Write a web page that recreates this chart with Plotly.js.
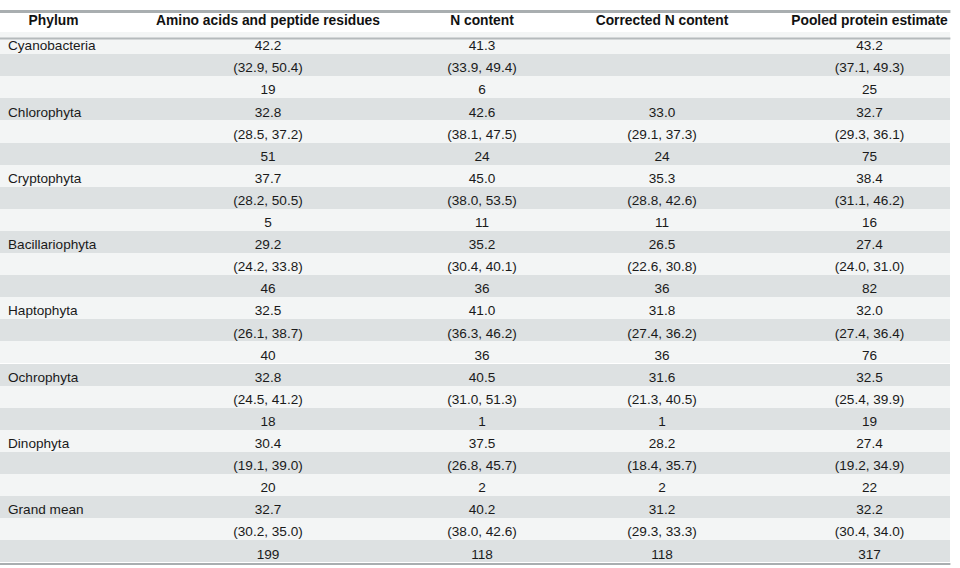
<!DOCTYPE html>
<html>
<head>
<meta charset="utf-8">
<script src="https://cdn.plot.ly/plotly-3.0.1.min.js"></script>
<style>html,body{margin:0;padding:0;background:#fff;}#chart{width:960px;height:568px;}</style>
</head>
<body>
<div id="chart"></div>
<script>
const headers = ["Phylum", "Amino acids and peptide residues", "N content", "Corrected N content", "Pooled protein estimate"];
const phyla = ["Cyanobacteria", "Chlorophyta", "Cryptophyta", "Bacillariophyta", "Haptophyta", "Ochrophyta", "Dinophyta", "Grand mean"];

const aminoMean = [42.2, 32.8, 37.7, 29.2, 32.5, 32.8, 30.4, 32.7];
const aminoLo   = [32.9, 28.5, 28.2, 24.2, 26.1, 24.5, 19.1, 30.2];
const aminoHi   = [50.4, 37.2, 50.5, 33.8, 38.7, 41.2, 39.0, 35.0];
const aminoN    = [19, 51, 5, 46, 40, 18, 20, 199];

const nMean = [41.3, 42.6, 45.0, 35.2, 41.0, 40.5, 37.5, 40.2];
const nLo   = [33.9, 38.1, 38.0, 30.4, 36.3, 31.0, 26.8, 38.0];
const nHi   = [49.4, 47.5, 53.5, 40.1, 46.2, 51.3, 45.7, 42.6];
const nN    = [6, 24, 11, 36, 36, 1, 2, 118];

const corrMean = [null, 33.0, 35.3, 26.5, 31.8, 31.6, 28.2, 31.2];
const corrLo   = [null, 29.1, 28.8, 22.6, 27.4, 21.3, 18.4, 29.3];
const corrHi   = [null, 37.3, 42.6, 30.8, 36.2, 40.5, 35.7, 33.3];
const corrN    = [null, 24, 11, 36, 36, 1, 2, 118];

const poolMean = [43.2, 32.7, 38.4, 27.4, 32.0, 32.5, 27.4, 32.2];
const poolLo   = [37.1, 29.3, 31.1, 24.0, 27.4, 25.4, 19.2, 30.4];
const poolHi   = [49.3, 36.1, 46.2, 31.0, 36.4, 39.9, 34.9, 34.0];
const poolN    = [25, 75, 16, 82, 76, 19, 22, 317];

function f1(v){ return v === null ? "" : v.toFixed(1); }
function ci(lo, hi){ return lo === null ? "" : "(" + lo.toFixed(1) + ",\u00a0" + hi.toFixed(1) + ")"; }
function buildCol(mean, lo, hi, n){
  const out = [];
  for (let i = 0; i < mean.length; i++){
    out.push(f1(mean[i]));
    out.push(ci(lo[i], hi[i]));
    out.push(n[i] === null ? "" : String(n[i]));
  }
  return out;
}
const col0 = [];
phyla.forEach(p => { col0.push(p.replace(/ /g, "\u00a0")); col0.push(""); col0.push(""); });
const cols = [col0,
  buildCol(aminoMean, aminoLo, aminoHi, aminoN),
  buildCol(nMean, nLo, nHi, nN),
  buildCol(corrMean, corrLo, corrHi, corrN),
  buildCol(poolMean, poolLo, poolHi, poolN)];

const light = "#f3f5f5", dark = "#dde1e2";
const rowFill = col0.map((_, i) => i % 2 === 0 ? light : dark);

const trace = {
  type: "table",
  columnwidth: [107, 322, 106, 254, 161],
  header: {
    values: headers.map(h => h.replace(/ /g, "\u00a0")),
    align: "center",
    height: 25,
    fill: {color: "#ffffff"},
    line: {color: "rgba(0,0,0,0)", width: 0},
    font: {family: "Liberation Sans, Arial, sans-serif", size: 13.8, color: "#111111", weight: "bold"}
  },
  cells: {
    values: cols,
    align: ["left", "center", "center", "center", "center"],
    height: 22.1,
    fill: {color: [rowFill, rowFill, rowFill, rowFill, rowFill]},
    line: {color: "rgba(0,0,0,0)", width: 0},
    font: {family: "Liberation Sans, Arial, sans-serif", size: 13.6, color: "#1a1a1a"}
  },
  domain: {x: [0, 0.99], y: [0, 1]}
};

const H = 568;
function py(px){ return 1 - px / H; }
const layout = {
  width: 960, height: 568,
  margin: {l: 0, r: 0, t: 7, b: 0},
  paper_bgcolor: "#ffffff",
  showlegend: false,
  shapes: [
    {type: "line", xref: "paper", yref: "paper", x0: 0, x1: 0.99, y0: py(4.5), y1: py(4.5), line: {color: "#a9aeb0", width: 3}},
    {type: "line", xref: "paper", yref: "paper", x0: 0, x1: 0.99, y0: py(32), y1: py(32), line: {color: "#b5babc", width: 2}},
    {type: "line", xref: "paper", yref: "paper", x0: 0, x1: 0.99, y0: py(564), y1: py(564), line: {color: "#a9aeb0", width: 2}}
  ]
};
Plotly.newPlot("chart", [trace], layout, {displayModeBar: false, staticPlot: true});
</script>
</body>
</html>
